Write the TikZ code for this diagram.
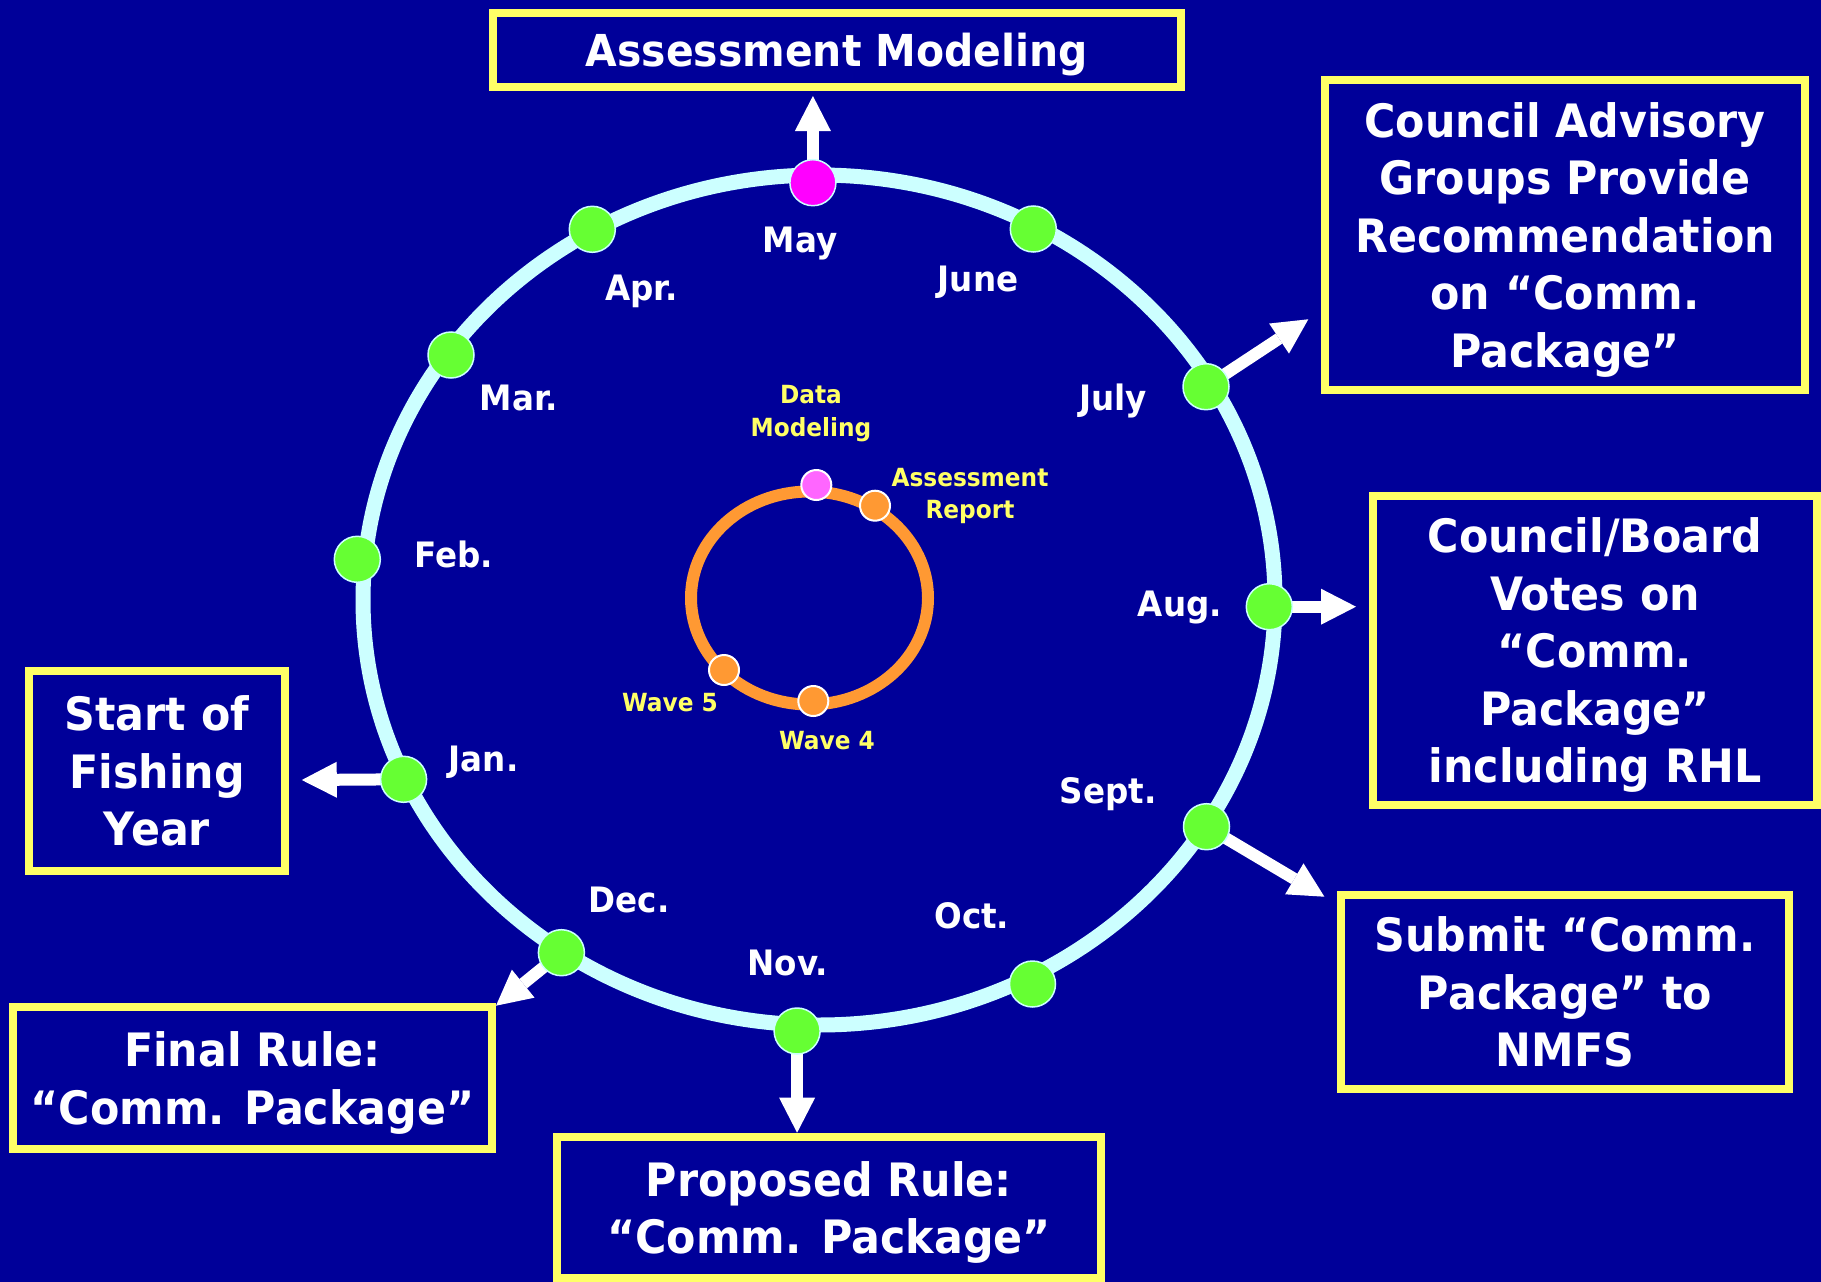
\documentclass[tikz,border=0pt]{standalone}
\usepackage{fontspec}
\setmainfont{DejaVu Sans}[FakeStretch=0.93]
\usetikzlibrary{arrows.meta}
\definecolor{bgblue}{HTML}{000099}
\definecolor{boxyellow}{HTML}{FFFF66}
\definecolor{ringcyan}{HTML}{CCFFFF}
\definecolor{dotgreen}{HTML}{66FF33}
\definecolor{dotmag}{HTML}{FF00FF}
\definecolor{dotpink}{HTML}{FF66FF}
\definecolor{orangec}{HTML}{FF9933}
\pgfdeclarelayer{ringlayer}
\pgfdeclarelayer{arrowlayer}
\pgfsetlayers{ringlayer,arrowlayer,main}
\begin{document}
\begin{tikzpicture}[x=1pt,y=-1pt,
  box/.style={draw=boxyellow, fill=bgblue, line width=8pt, inner sep=0pt, align=center, text=white, text depth=0pt, font=\fontsize{46}{57.5}\selectfont\bfseries},
  month/.style={text=white, font=\fontsize{35}{42}\selectfont\bfseries, anchor=base, inner sep=0pt},
  inlabel/.style={text=boxyellow, font=\fontsize{25}{32.7}\selectfont\bfseries, align=center, inner sep=0pt},
  gdot/.style={circle, fill=dotgreen, draw=ringcyan, line width=1.5pt, minimum size=46pt, inner sep=0pt},
  mdot/.style={gdot, fill=dotmag},
  idot/.style={circle, draw=white, line width=2pt, minimum size=30pt, inner sep=0pt, fill=orangec},
  warrow/.style={draw=white, line width=12pt, -{Triangle[length=35pt,width=36pt,line width=0pt]}}
]
\begin{pgfonlayer}{ringlayer}
\fill[bgblue] (0,0) rectangle (1821,1282);
\draw[ringcyan, line width=15pt] (819,600) ellipse [x radius=456pt, y radius=425pt];
\draw[orangec, line width=12pt] (809.5,598) ellipse [x radius=118.5pt, y radius=106.5pt];
\end{pgfonlayer}
\useasboundingbox (0,0) rectangle (1821,1282);

% month dots
\node[mdot] (may) at (812.9,182.7) {};
\node[gdot] (apr) at (592.3,229.3) {};
\node[gdot] (jun) at (1033.3,229) {};
\node[gdot] (mar) at (451,355) {};
\node[gdot] (jul) at (1206,386.7) {};
\node[gdot] (feb) at (357.3,559.3) {};
\node[gdot] (aug) at (1269.3,606.7) {};
\node[gdot] (jan) at (403.6,779.3) {};
\node[gdot] (sep) at (1206.5,826.7) {};
\node[gdot] (dec) at (561.4,952.7) {};
\node[gdot] (oct) at (1032.5,984) {};
\node[gdot] (nov) at (797.1,1031) {};

% inner dots
\node[idot, fill=dotpink] (dm) at (816.3,485) {};
\node[idot] (ar) at (875,505.7) {};
\node[idot] (w5) at (724,670) {};
\node[idot] (w4) at (813.3,701) {};

% month labels
\node[month] (lmay) at (800,252) {May};
\node[month] (lapr) at (641.5,300) {Apr.};
\node[month] (ljun) at (978,291.7) {June};
\node[month] (lmar) at (519,410) {Mar.};
\node[month] (ljul) at (1113,410) {July};
\node[month] (lfeb) at (454,567.7) {Feb.};
\node[month] (laug) at (1180,616) {Aug.};
\node[month] (ljan) at (483.6,771.7) {Jan.};
\node[month] (lsep) at (1108,803.7) {Sept.};
\node[month] (loct) at (971.8,928.3) {Oct.};
\node[month] (lnov) at (788,975.7) {Nov.};
\node[month] (ldec) at (629,912.3) {Dec.};

% inner labels
\node[inlabel, anchor=north] (ldm) at (811,385.1) {Data\\Modeling};
\node[inlabel, anchor=north] (lar) at (970,467.8) {Assessment\\Report};
\node[inlabel, anchor=base] (lw5) at (670,711.7) {Wave 5};
\node[inlabel, anchor=base] (lw4) at (827,749) {Wave 4};

% boxes
\node[box, minimum width=688pt, minimum height=74pt, font=\fontsize{44}{55}\selectfont\bfseries] (am) at (837,50) {Assessment Modeling};
\node[box, minimum width=480pt, minimum height=310pt] (cag) at (1565,235) {Council Advisory\\Groups Provide\\Recommendation\\on “Comm.\\Package”};
\node[box, minimum width=444pt, minimum height=309pt] (cb) at (1595,650.5) {Council/Board\\Votes on\\“Comm.\\Package”\\including RHL};
\node[box, minimum width=448pt, minimum height=194pt] (sub) at (1565,992) {Submit “Comm.\\Package” to\\NMFS};
\node[box, minimum width=544pt, minimum height=141pt] (prop) at (829,1207.5) {Proposed Rule:\\“Comm. Package”};
\node[box, minimum width=479pt, minimum height=142pt] (fin) at (252.5,1078) {Final Rule:\\“Comm. Package”};
\node[box, minimum width=256pt, minimum height=200pt] (start) at (157,771) {Start of\\Fishing\\Year};

% arrow tips
\coordinate (tam) at (812.9,96);
\coordinate (tcag) at (1308.3,319.3);
\coordinate (tcb) at (1356,606.7);
\coordinate (tsub) at (1324.4,896.7);
\coordinate (tprop) at (797.1,1132.7);
\coordinate (tfin) at (496,1005.7);
\coordinate (tstart) at (301.8,780);

\begin{pgfonlayer}{arrowlayer}
\draw[warrow] (may.center) -- (tam);
\draw[warrow] (jul.center) -- (tcag);
\draw[warrow] (aug.center) -- (tcb);
\draw[warrow] (sep.center) -- (tsub);
\draw[warrow] (nov.center) -- (tprop);
\draw[warrow] (dec.center) -- (tfin);
\draw[warrow] (jan.center) -- (tstart);
\end{pgfonlayer}
\end{tikzpicture}
\end{document}
